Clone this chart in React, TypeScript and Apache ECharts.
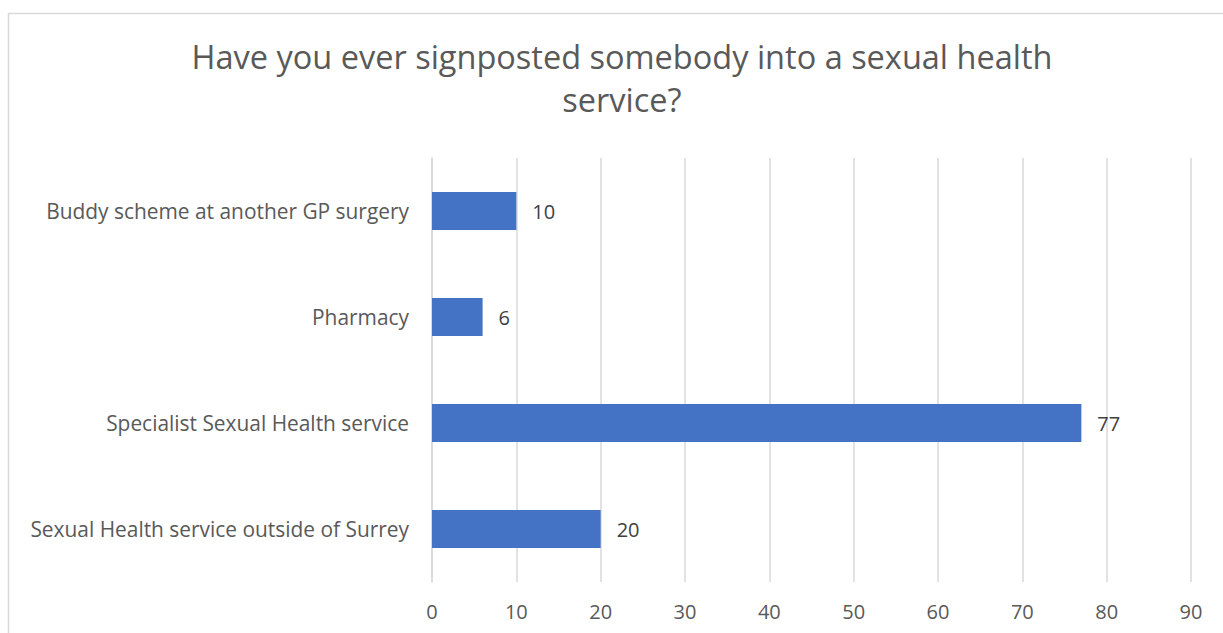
import React, { useEffect, useRef } from "react";
import * as echarts from "echarts";

const titleText = "Have you ever signposted somebody into a sexual health\nservice?";
const categories = [
  "Sexual Health service outside of Surrey",
  "Specialist Sexual Health service",
  "Pharmacy",
  "Buddy scheme at another GP surgery",
];
const values = [20, 77, 6, 10];
const xTicks = { min: 0, max: 90, interval: 10 };

export default function App() {
  const ref = useRef<HTMLDivElement>(null);
  useEffect(() => {
    if (!ref.current) return;
    const chart = echarts.init(ref.current, null, { renderer: "svg" });
    const font = "'Open Sans', 'Noto Sans', sans-serif";
    chart.setOption({
      animation: false,
      backgroundColor: "#ffffff",
      title: {
        text: titleText,
        left: 617,
        textAlign: "center",
        top: 30,
        textStyle: {
          fontFamily: font,
          fontSize: 32.5,
          fontWeight: "normal",
          color: "#595959",
          lineHeight: 43,
        },
      },
      graphic: [
        {
          type: "rect",
          shape: { x: 8.5, y: 13.5, width: 1240, height: 660 },
          style: { fill: "none", stroke: "#d9d9d9", lineWidth: 1.5 },
          silent: true,
        },
      ],
      grid: { left: 432, right: 32, top: 158, bottom: 51 },
      xAxis: {
        type: "value",
        min: xTicks.min,
        max: xTicks.max,
        interval: xTicks.interval,
        axisLine: { show: false },
        axisTick: { show: false },
        splitLine: { show: true, lineStyle: { color: "#d9d9d9", width: 1.5 } },
        axisLabel: {
          fontFamily: font,
          fontSize: 20,
          color: "#595959",
          margin: 19,
        },
      },
      yAxis: {
        type: "category",
        data: categories,
        axisLine: { show: true, lineStyle: { color: "#d9d9d9", width: 1.5 } },
        axisTick: { show: false },
        axisLabel: {
          fontFamily: font,
          fontSize: 20.9,
          color: "#595959",
          margin: 23,
        },
      },
      series: [
        {
          type: "bar",
          data: values,
          barWidth: 38,
          itemStyle: { color: "#4472C4" },
          label: {
            show: true,
            position: "right",
            distance: 16,
            fontFamily: font,
            fontSize: 20,
            color: "#404040",
          },
        },
      ],
    });
    return () => chart.dispose();
  }, []);
  return (
    <div
      ref={ref}
      style={{ position: "absolute", left: 0, top: 0, width: 1223, height: 633 }}
    />
  );
}
